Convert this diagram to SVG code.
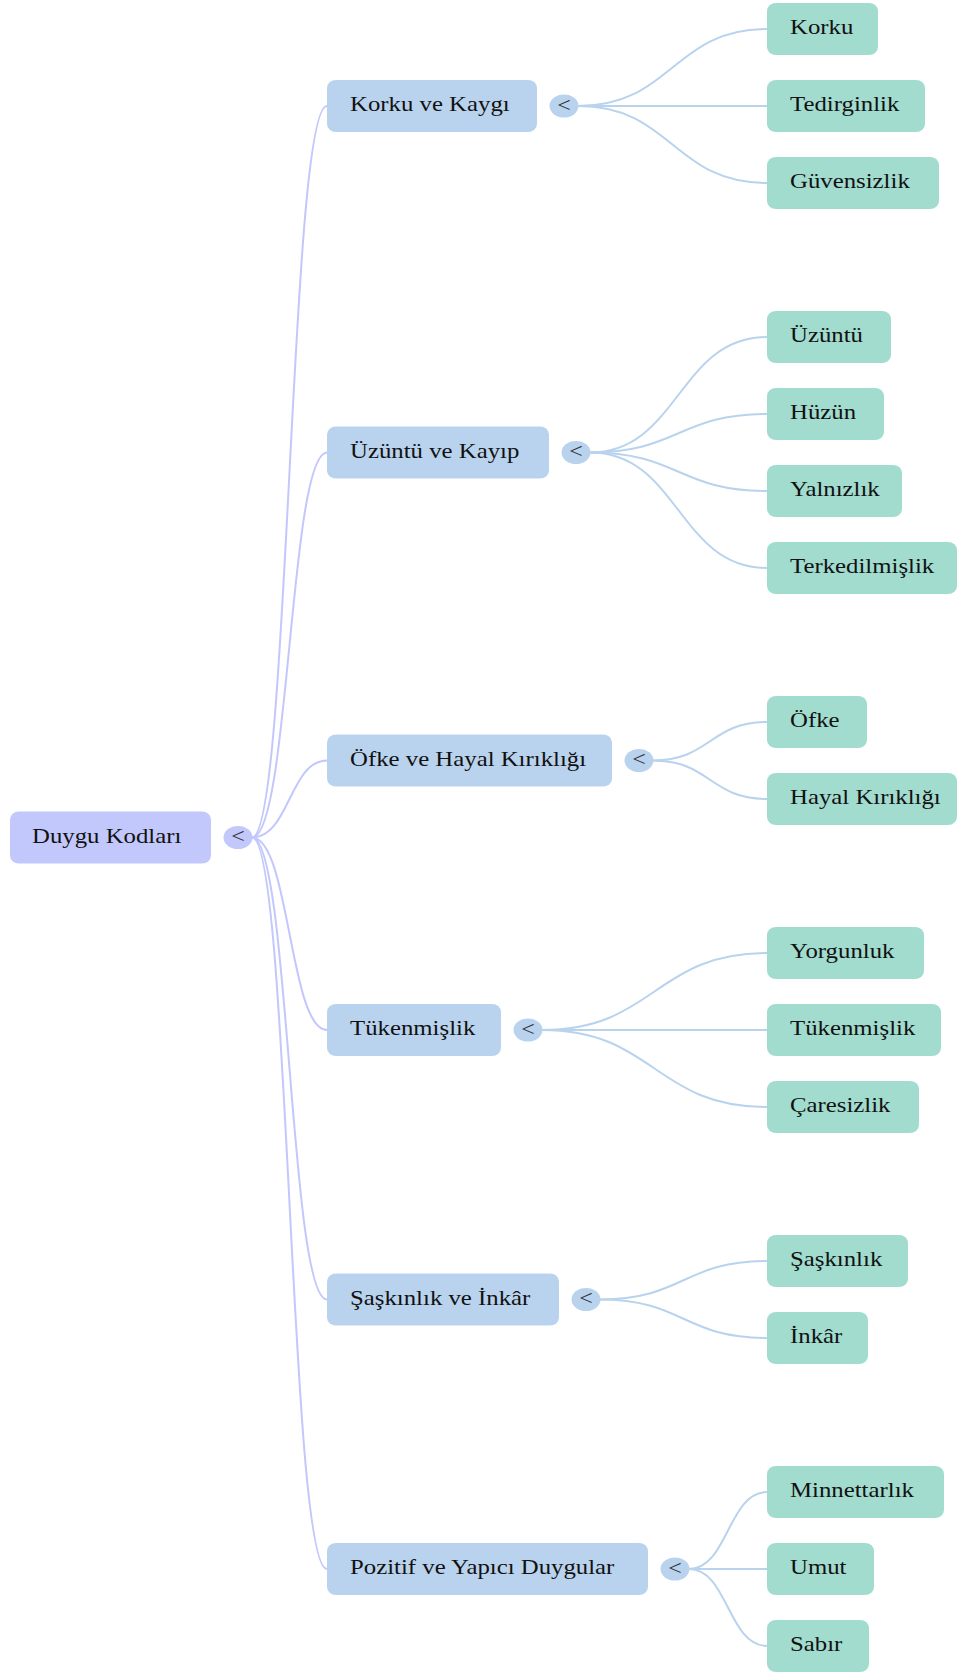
<svg xmlns="http://www.w3.org/2000/svg" width="958" height="1673" viewBox="0 0 958 1673">
<style>
.root rect{fill:#C3C8FC}
.root ellipse{fill:#C3C8FC}
.l1 rect{fill:#B9D3EE}
.l1 ellipse{fill:#B9D3EE}
.leaf rect{fill:#A1DCCF}
text{font-family:"Liberation Serif","Times New Roman",serif;font-size:20px;fill:#111}
text.tog{font-size:20px;fill:#333;text-anchor:middle}
#edges path{fill:none;stroke-width:2}
#edges .e0{stroke:#C3C8FC}
#edges .e1{stroke:#B9D3EE}
</style>
<rect width="958" height="1673" fill="#ffffff"/>
<g id="edges">
<path class="e0" d="M252,837.5 C289.5,837.5 289.5,106 327,106"/>
<path class="e0" d="M252,837.5 C289.5,837.5 289.5,452.5 327,452.5"/>
<path class="e0" d="M252,837.5 C289.5,837.5 289.5,760.5 327,760.5"/>
<path class="e0" d="M252,837.5 C289.5,837.5 289.5,1030 327,1030"/>
<path class="e0" d="M252,837.5 C289.5,837.5 289.5,1299.5 327,1299.5"/>
<path class="e0" d="M252,837.5 C289.5,837.5 289.5,1569 327,1569"/>
<path class="e1" d="M578,106 C672.5,106 672.5,29 767,29"/>
<path class="e1" d="M578,106 L767,106"/>
<path class="e1" d="M578,106 C672.5,106 672.5,183 767,183"/>
<path class="e1" d="M590,452.5 C678.5,452.5 678.5,337 767,337"/>
<path class="e1" d="M590,452.5 C678.5,452.5 678.5,414 767,414"/>
<path class="e1" d="M590,452.5 C678.5,452.5 678.5,491 767,491"/>
<path class="e1" d="M590,452.5 C678.5,452.5 678.5,568 767,568"/>
<path class="e1" d="M653,760.5 C710,760.5 710,722 767,722"/>
<path class="e1" d="M653,760.5 C710,760.5 710,799 767,799"/>
<path class="e1" d="M542,1030 C654.5,1030 654.5,953 767,953"/>
<path class="e1" d="M542,1030 L767,1030"/>
<path class="e1" d="M542,1030 C654.5,1030 654.5,1107 767,1107"/>
<path class="e1" d="M600,1299.5 C683.5,1299.5 683.5,1261 767,1261"/>
<path class="e1" d="M600,1299.5 C683.5,1299.5 683.5,1338 767,1338"/>
<path class="e1" d="M689,1569 C728,1569 728,1492 767,1492"/>
<path class="e1" d="M689,1569 L767,1569"/>
<path class="e1" d="M689,1569 C728,1569 728,1646 767,1646"/>
</g>
<g id="root" class="root">
<rect x="10" y="811.5" width="201" height="52" rx="9" ry="8"/>
<text transform="matrix(1.24 0 0 1 32 842.5)">Duygu Kodları</text>
<ellipse cx="238" cy="837.5" rx="14.5" ry="11.5"/>
<text class="tog" transform="matrix(1.2 0 0 1 238 843)">&lt;</text>
</g>
<g id="n1" class="l1">
<rect x="327" y="80" width="210" height="52" rx="9" ry="8"/>
<text transform="matrix(1.24 0 0 1 350 111)">Korku ve Kaygı</text>
<ellipse cx="564" cy="106" rx="14.5" ry="11.5"/>
<text class="tog" transform="matrix(1.2 0 0 1 564 111.5)">&lt;</text>
</g>
<g id="n2" class="l1">
<rect x="327" y="426.5" width="222" height="52" rx="9" ry="8"/>
<text transform="matrix(1.24 0 0 1 350 457.5)">Üzüntü ve Kayıp</text>
<ellipse cx="576" cy="452.5" rx="14.5" ry="11.5"/>
<text class="tog" transform="matrix(1.2 0 0 1 576 458)">&lt;</text>
</g>
<g id="n3" class="l1">
<rect x="327" y="734.5" width="285" height="52" rx="9" ry="8"/>
<text transform="matrix(1.24 0 0 1 350 765.5)">Öfke ve Hayal Kırıklığı</text>
<ellipse cx="639" cy="760.5" rx="14.5" ry="11.5"/>
<text class="tog" transform="matrix(1.2 0 0 1 639 766)">&lt;</text>
</g>
<g id="n4" class="l1">
<rect x="327" y="1004" width="174" height="52" rx="9" ry="8"/>
<text transform="matrix(1.24 0 0 1 350 1035)">Tükenmişlik</text>
<ellipse cx="528" cy="1030" rx="14.5" ry="11.5"/>
<text class="tog" transform="matrix(1.2 0 0 1 528 1035.5)">&lt;</text>
</g>
<g id="n5" class="l1">
<rect x="327" y="1273.5" width="232" height="52" rx="9" ry="8"/>
<text transform="matrix(1.24 0 0 1 350 1304.5)">Şaşkınlık ve İnkâr</text>
<ellipse cx="586" cy="1299.5" rx="14.5" ry="11.5"/>
<text class="tog" transform="matrix(1.2 0 0 1 586 1305)">&lt;</text>
</g>
<g id="n6" class="l1">
<rect x="327" y="1543" width="321" height="52" rx="9" ry="8"/>
<text transform="matrix(1.24 0 0 1 350 1574)">Pozitif ve Yapıcı Duygular</text>
<ellipse cx="675" cy="1569" rx="14.5" ry="11.5"/>
<text class="tog" transform="matrix(1.2 0 0 1 675 1574.5)">&lt;</text>
</g>
<g id="leaf-korku" class="leaf"><rect x="767" y="3" width="111" height="52" rx="9" ry="8"/><text transform="matrix(1.24 0 0 1 790 34)">Korku</text></g>
<g id="leaf-tedirginlik" class="leaf"><rect x="767" y="80" width="158" height="52" rx="9" ry="8"/><text transform="matrix(1.24 0 0 1 790 111)">Tedirginlik</text></g>
<g id="leaf-guvensizlik" class="leaf"><rect x="767" y="157" width="172" height="52" rx="9" ry="8"/><text transform="matrix(1.24 0 0 1 790 188)">Güvensizlik</text></g>
<g id="leaf-uzuntu" class="leaf"><rect x="767" y="311" width="124" height="52" rx="9" ry="8"/><text transform="matrix(1.24 0 0 1 790 342)">Üzüntü</text></g>
<g id="leaf-huzun" class="leaf"><rect x="767" y="388" width="117" height="52" rx="9" ry="8"/><text transform="matrix(1.24 0 0 1 790 419)">Hüzün</text></g>
<g id="leaf-yalnizlik" class="leaf"><rect x="767" y="465" width="135" height="52" rx="9" ry="8"/><text transform="matrix(1.24 0 0 1 790 496)">Yalnızlık</text></g>
<g id="leaf-terkedilmislik" class="leaf"><rect x="767" y="542" width="190" height="52" rx="9" ry="8"/><text transform="matrix(1.24 0 0 1 790 573)">Terkedilmişlik</text></g>
<g id="leaf-ofke" class="leaf"><rect x="767" y="696" width="100" height="52" rx="9" ry="8"/><text transform="matrix(1.24 0 0 1 790 727)">Öfke</text></g>
<g id="leaf-hayal" class="leaf"><rect x="767" y="773" width="190" height="52" rx="9" ry="8"/><text transform="matrix(1.24 0 0 1 790 804)">Hayal Kırıklığı</text></g>
<g id="leaf-yorgunluk" class="leaf"><rect x="767" y="927" width="157" height="52" rx="9" ry="8"/><text transform="matrix(1.24 0 0 1 790 958)">Yorgunluk</text></g>
<g id="leaf-tukenmislik" class="leaf"><rect x="767" y="1004" width="174" height="52" rx="9" ry="8"/><text transform="matrix(1.24 0 0 1 790 1035)">Tükenmişlik</text></g>
<g id="leaf-caresizlik" class="leaf"><rect x="767" y="1081" width="152" height="52" rx="9" ry="8"/><text transform="matrix(1.24 0 0 1 790 1112)">Çaresizlik</text></g>
<g id="leaf-saskinlik" class="leaf"><rect x="767" y="1235" width="141" height="52" rx="9" ry="8"/><text transform="matrix(1.24 0 0 1 790 1266)">Şaşkınlık</text></g>
<g id="leaf-inkar" class="leaf"><rect x="767" y="1312" width="101" height="52" rx="9" ry="8"/><text transform="matrix(1.24 0 0 1 790 1343)">İnkâr</text></g>
<g id="leaf-minnettarlik" class="leaf"><rect x="767" y="1466" width="177" height="52" rx="9" ry="8"/><text transform="matrix(1.24 0 0 1 790 1497)">Minnettarlık</text></g>
<g id="leaf-umut" class="leaf"><rect x="767" y="1543" width="107" height="52" rx="9" ry="8"/><text transform="matrix(1.24 0 0 1 790 1574)">Umut</text></g>
<g id="leaf-sabir" class="leaf"><rect x="767" y="1620" width="102" height="52" rx="9" ry="8"/><text transform="matrix(1.24 0 0 1 790 1651)">Sabır</text></g>
</svg>
